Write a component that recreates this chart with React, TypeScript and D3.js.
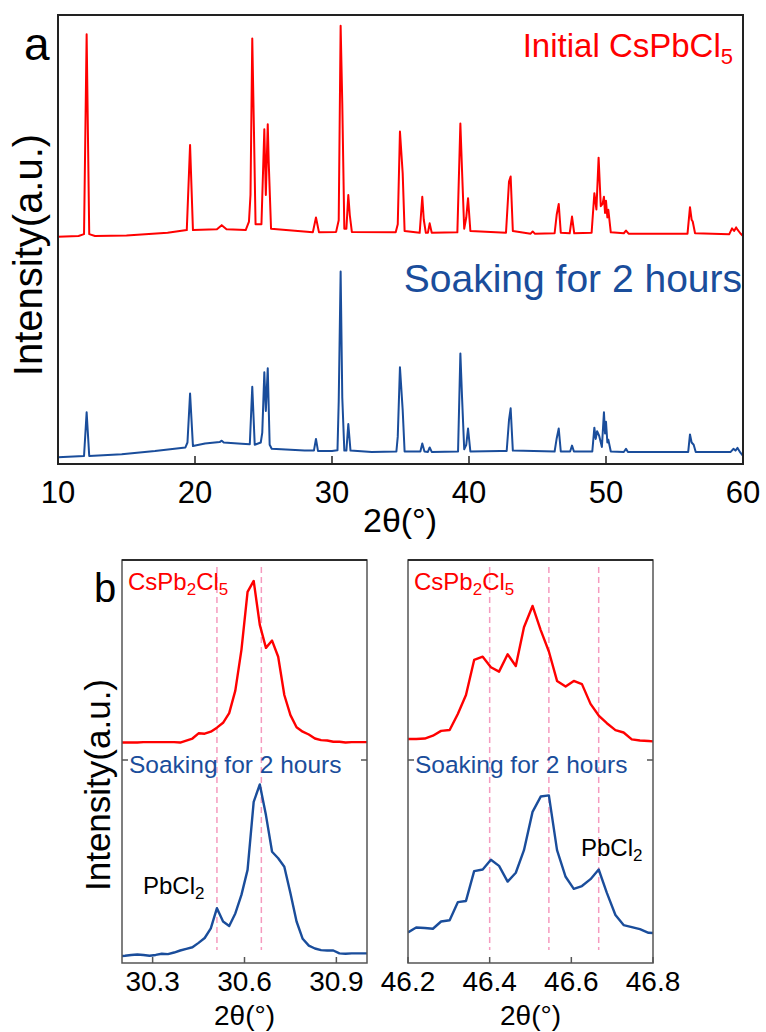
import React from 'react'
import * as d3 from 'd3'

// ---- panel a: full XRD patterns (vertices) ----
const initialPattern: [number, number][] = [
  [10.0, 50.7], [11.5, 50.9], [11.9, 51.3], [12.09, 95.7], [12.28, 51.3], [12.7, 50.9],
  [15.0, 51.0], [18.0, 51.6], [19.4, 52.2], [19.64, 71.1], [19.85, 52.2], [21.6, 52.4],
  [21.95, 53.3], [22.3, 52.4], [23.7, 52.2], [23.94, 54.1], [24.05, 60.0], [24.18, 94.8],
  [24.3, 74.8], [24.42, 53.5], [24.85, 53.5], [25.06, 74.6], [25.17, 60.0], [25.31, 75.7],
  [25.38, 67.4], [25.55, 52.5], [28.6, 51.7], [28.83, 55.0], [29.05, 51.7], [30.3, 51.8],
  [30.49, 54.4], [30.63, 97.6], [30.75, 80.4], [30.9, 52.5], [31.05, 52.5], [31.19, 60.0],
  [31.3, 55.5], [31.45, 51.8], [34.65, 51.7], [34.8, 53.5], [34.96, 74.1], [35.16, 64.8],
  [35.3, 52.0], [36.4, 51.6], [36.59, 59.6], [36.7, 54.5], [36.85, 51.6], [37.0, 51.6],
  [37.13, 53.7], [37.28, 51.6], [39.15, 51.7], [39.37, 75.9], [39.49, 65.6], [39.65, 52.5],
  [39.8, 55.0], [39.93, 59.3], [40.1, 52.0], [42.7, 51.6], [42.92, 63.0], [43.04, 64.1],
  [43.2, 52.0], [44.5, 51.4], [44.65, 51.9], [44.8, 51.4], [46.25, 51.5], [46.4, 55.6],
  [46.55, 58.0], [46.7, 51.6], [47.35, 51.5], [47.52, 55.2], [47.68, 51.5], [48.95, 51.6],
  [49.15, 60.4], [49.3, 56.8], [49.46, 68.3], [49.62, 57.5], [49.75, 58.0], [49.85, 59.6],
  [49.93, 56.0], [50.0, 58.7], [50.1, 55.0], [50.17, 56.7], [50.35, 51.7], [51.3, 51.5],
  [51.46, 52.1], [51.65, 51.4], [55.95, 51.4], [56.13, 57.3], [56.25, 54.5], [56.33, 54.1],
  [56.5, 51.5], [59.0, 51.3], [59.2, 52.6], [59.35, 52.0], [59.5, 52.8], [59.6, 52.3],
  [59.8, 51.5], [60.0, 50.9],
]

const soakedPattern: [number, number][] = [
  [10.0, 1.7], [11.9, 2.0], [12.09, 11.7], [12.28, 2.0], [14.65, 2.4], [17.08, 3.1],
  [19.3, 3.9], [19.45, 5.0], [19.64, 15.9], [19.85, 4.2], [20.73, 4.8], [21.8, 5.1],
  [21.95, 5.4], [22.1, 5.0], [23.4, 4.7], [24.0, 4.6], [24.18, 17.4], [24.36, 4.5],
  [24.8, 5.0], [24.91, 7.2], [25.06, 20.6], [25.17, 12.0], [25.31, 21.5], [25.45, 4.5],
  [25.6, 3.6], [28.0, 3.2], [28.68, 3.2], [28.83, 5.8], [28.98, 3.1], [30.0, 3.1],
  [30.4, 3.3], [30.49, 14.1], [30.63, 43.0], [30.75, 15.0], [30.9, 3.2], [31.05, 3.2],
  [31.19, 9.1], [31.35, 3.2], [32.9, 2.9], [34.7, 3.0], [34.8, 6.3], [34.96, 21.7],
  [35.16, 12.2], [35.3, 3.0], [36.45, 3.0], [36.59, 4.8], [36.75, 3.0], [37.0, 2.9],
  [37.13, 3.9], [37.28, 2.9], [39.2, 3.0], [39.37, 24.8], [39.49, 15.2], [39.65, 3.5],
  [39.8, 4.5], [39.93, 8.1], [40.1, 3.0], [42.3, 3.1], [42.75, 3.1], [42.92, 10.0],
  [43.04, 12.6], [43.2, 3.2], [46.25, 3.0], [46.4, 5.9], [46.55, 8.1], [46.7, 3.0],
  [47.38, 3.0], [47.52, 4.3], [47.66, 3.0], [49.0, 3.0], [49.15, 8.3], [49.25, 5.8],
  [49.35, 7.5], [49.5, 6.5], [49.7, 4.0], [49.85, 11.7], [49.93, 7.0], [50.0, 9.6],
  [50.1, 5.0], [50.17, 5.6], [50.35, 3.0], [51.3, 2.9], [51.46, 3.6], [51.6, 2.9],
  [56.0, 2.9], [56.13, 6.8], [56.25, 5.0], [56.4, 4.5], [56.55, 2.9], [59.1, 2.9],
  [59.3, 3.6], [59.45, 3.2], [59.6, 3.8], [59.8, 2.8], [60.0, 2.0],
]
const topTicks = [10, 20, 30, 40, 50, 60]

// ---- panel b left: zoom around 30.6 ----
const leftTheta = [
  30.19, 30.21, 30.23, 30.25, 30.27, 30.29, 30.31, 30.33, 30.35, 30.37, 30.39, 30.41, 30.43, 30.45,
  30.47, 30.49, 30.51, 30.53, 30.55, 30.57, 30.59, 30.61, 30.63, 30.65, 30.67, 30.69, 30.71, 30.73,
  30.75, 30.77, 30.79, 30.81, 30.83, 30.85, 30.87, 30.89, 30.91, 30.93, 30.95, 30.97, 30.99, 31.01,
]
const leftInitial = [
  54.7, 54.7, 54.7, 54.7, 54.8, 54.8, 54.8, 54.8, 54.8, 54.8, 54.7, 55.2, 55.7, 57.0,
  56.9, 57.4, 58.4, 59.6, 62.0, 67.6, 77.7, 92.1, 94.8, 83.9, 78.2, 80.0, 76.0, 66.5,
  61.5, 58.5, 57.4, 56.7, 55.7, 55.3, 55.2, 54.9, 54.9, 54.7, 54.8, 54.8, 54.8, 54.8,
]
const leftSoaked = [
  1.7, 1.8, 2.0, 2.1, 2.0, 1.8, 2.0, 2.3, 2.2, 2.6, 3.1, 3.5, 3.9, 5.0,
  6.2, 8.6, 13.6, 10.3, 9.2, 12.3, 16.9, 23.1, 40.0, 44.3, 36.7, 27.6, 26.0, 23.9,
  17.3, 10.3, 6.0, 4.3, 3.6, 3.2, 3.1, 3.1, 2.4, 2.3, 2.4, 2.4, 2.4, 2.4,
]
const leftTicks = [30.3, 30.6, 30.9]
const leftMarkers = [30.51, 30.655]

// ---- panel b right: zoom around 46.5 ----
const rightTheta = [
  46.2, 46.22, 46.241, 46.261, 46.281, 46.302, 46.322, 46.342, 46.362, 46.383, 46.403,
  46.423, 46.444, 46.464, 46.484, 46.505, 46.525, 46.545, 46.565, 46.586, 46.606,
  46.626, 46.647, 46.667, 46.687, 46.708, 46.728, 46.748, 46.768, 46.789, 46.809,
]
const rightInitial = [
  55.6, 55.6, 55.7, 56.4, 57.6, 57.8, 61.8, 66.5, 75.2, 76.0, 73.4,
  72.3, 76.6, 73.7, 83.3, 88.6, 82.6, 77.3, 70.0, 68.6, 70.0,
  69.2, 64.3, 61.4, 59.5, 57.8, 57.2, 55.5, 55.2, 55.1, 54.9,
]
const rightSoaked = [
  7.6, 8.8, 8.7, 8.5, 10.3, 10.6, 15.1, 15.4, 22.8, 23.2, 25.6,
  24.1, 20.2, 22.4, 28.0, 37.5, 41.3, 41.6, 28.0, 21.4, 18.4,
  19.1, 20.8, 23.2, 17.4, 11.9, 9.4, 8.9, 8.4, 7.5, 7.4,
]
const rightTicks = [46.2, 46.4, 46.6, 46.8]
const rightMarkers = [46.4, 46.545, 46.667]

const RED = '#ff0000'
const BLUE = '#1a4d9b'
const PINK = '#f59bbf'
const FONT = '"Liberation Sans", Arial, sans-serif'

const SmallPanel = ({ x0, x1, domain, theta, initial, soaked, ticks, markers, pbX, pbY, clipId }: any) => {
  const top = 560, bottom = 963
  const x = d3.scaleLinear().domain(domain).range([x0, x1])
  const y = d3.scaleLinear().domain([0, 100]).range([bottom, top])
  const line = d3.line<number>().x((_, i) => x(theta[i])).y(d => y(d))
  return (
    <g fontFamily={FONT}>
      <defs>
        <clipPath id={clipId}><rect x={x0} y={top} width={x1 - x0} height={bottom - top} /></clipPath>
      </defs>
      {markers.map((m: number) => (
        <line key={m} x1={x(m)} x2={x(m)} y1={567} y2={950} stroke={PINK} strokeWidth={1.5} strokeDasharray="6,4" />
      ))}
      <g clipPath={`url(#${clipId})`}>
        <path d={line(initial) || ''} fill="none" stroke={RED} strokeWidth={2.4} strokeLinejoin="round" />
        <path d={line(soaked) || ''} fill="none" stroke={BLUE} strokeWidth={2.4} strokeLinejoin="round" />
      </g>
      <rect x={x0} y={top} width={x1 - x0} height={bottom - top} fill="none" stroke="#555" strokeWidth={1.5} />
      <line x1={x0} x2={x1} y1={top} y2={top} stroke="#111" strokeWidth={1.5} />
      <line x1={x0} x2={x0 + 6} y1={760} y2={760} stroke="#555" strokeWidth={1.5} />
      <line x1={x1} x2={x1 - 6} y1={760} y2={760} stroke="#555" strokeWidth={1.5} />
      {ticks.map((t: number) => (
        <g key={t}>
          <line x1={x(t)} x2={x(t)} y1={bottom} y2={bottom - 6} stroke="#555" strokeWidth={1.5} />
          <text x={x(t)} y={991} textAnchor="middle" fontSize={28}>{t.toFixed(1)}</text>
        </g>
      ))}
      <text x={(x0 + x1) / 2} y={1025} textAnchor="middle" fontSize={28}>2θ(°)</text>
      <text x={x0 + 6} y={590} fontSize={24} fill={RED}>
        CsPb<tspan dy={5} fontSize={17}>2</tspan><tspan dy={-5}>Cl</tspan><tspan dy={5} fontSize={17}>5</tspan>
      </text>
      <text x={x0 + 7} y={773} fontSize={24.5} fill={BLUE}>Soaking for 2 hours</text>
      <text x={pbX} y={pbY} fontSize={24} fill="#000">
        PbCl<tspan dy={5} fontSize={17}>2</tspan>
      </text>
    </g>
  )
}

export default function App() {
  const x = d3.scaleLinear().domain([10, 60]).range([58, 743])
  const y = d3.scaleLinear().domain([0, 100]).range([465, 15])
  const line = d3.line<[number, number]>().x(d => x(d[0])).y(d => y(d[1]))

  return (
    <div style={{ position: 'absolute', left: 0, top: 0 }}>
      <svg width={766} height={1032} style={{ display: 'block', background: '#fff' }}>
        <g fontFamily={FONT}>
          <path d={line(initialPattern) || ''} fill="none" stroke={RED} strokeWidth={2} strokeLinejoin="round" />
          <path d={line(soakedPattern) || ''} fill="none" stroke={BLUE} strokeWidth={2} strokeLinejoin="round" />
          <rect x={58} y={15} width={685} height={449} fill="none" stroke="#222" strokeWidth={2} />
          {topTicks.map(t => (
            <g key={t}>
              <line x1={x(t)} x2={x(t)} y1={464} y2={456} stroke="#222" strokeWidth={1.5} />
              <text x={x(t)} y={503} textAnchor="middle" fontSize={31}>{t}</text>
            </g>
          ))}
          <text x={400} y={532} textAnchor="middle" fontSize={34}>2θ(°)</text>
          <text transform="translate(42,255) rotate(-90)" textAnchor="middle" fontSize={40}>Intensity(a.u.)</text>
          <text x={24} y={60} fontSize={46}>a</text>
          <text x={733} y={57} textAnchor="end" fontSize={33} fill={RED}>
            Initial CsPbCl<tspan dy={7} fontSize={22}>5</tspan>
          </text>
          <text x={742} y={292} textAnchor="end" fontSize={39} fill={BLUE}>Soaking for 2 hours</text>

          <text x={94} y={602} fontSize={40}>b</text>
          <text transform="translate(110,785) rotate(-90)" textAnchor="middle" fontSize={35}>Intensity(a.u.)</text>
        </g>
        <SmallPanel x0={122} x1={367} domain={[30.2, 31.0]} theta={leftTheta} initial={leftInitial}
          soaked={leftSoaked} ticks={leftTicks} markers={leftMarkers} pbX={143} pbY={894} clipId="clipL" />
        <SmallPanel x0={408} x1={653} domain={[46.2, 46.8]} theta={rightTheta} initial={rightInitial}
          soaked={rightSoaked} ticks={rightTicks} markers={rightMarkers} pbX={581} pbY={856} clipId="clipR" />
      </svg>
    </div>
  )
}
